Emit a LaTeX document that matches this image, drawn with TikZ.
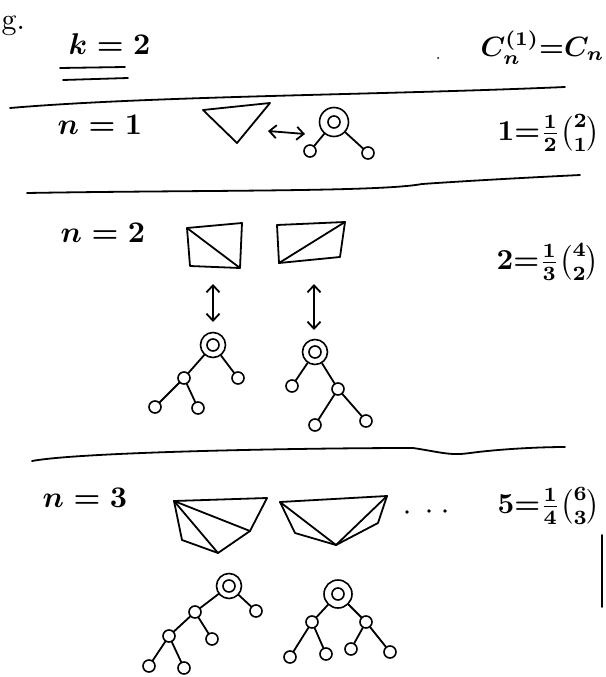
\documentclass[tikz,border=0pt]{standalone}
\usepackage{amsmath}
\usetikzlibrary{arrows.meta}
\begin{document}
\begin{tikzpicture}[x=1pt,y=-1pt,
 pen/.style={line width=1.8pt, line cap=round, line join=round},
 lbl/.style={scale=3, inner sep=0pt, font=\boldmath},
 eqn/.style={scale=2.9, inner sep=0pt, font=\boldmath},
 leaf/.style={circle, draw, line width=1.6pt, minimum size=12pt, inner sep=0pt},
 rootn/.style={circle, draw, line width=1.6pt, minimum size=25pt, inner sep=0pt,
   path picture={\draw[line width=1.6pt] (path picture bounding box.center) circle (6pt);}},
 edge/.style={pen},
 dbl/.style={pen, {Straight Barb[length=7pt,width=13pt]}-{Straight Barb[length=7pt,width=13pt]}}
]
\useasboundingbox[fill=white] (0,0) rectangle (605,677);

% header
\node[lbl, anchor=base west] (g) at (1,30) {g.};
\node[lbl, anchor=west] (k) at (68,44) {$k=2$};
\draw[pen] (60,68) -- (125,67);
\draw[pen] (63,80) -- (128,78);
\node[lbl, scale=0.93, anchor=west] (C) at (480,48) {$C_n^{(1)}{=}C_n$};
\fill (438,58) circle (1pt);

% separators
\draw[pen] (10,108) .. controls (150,96) and (380,95) .. (565,87);
\draw[pen] (27,193) .. controls (200,190) and (380,192) .. (422,184) .. controls (480,180) and (540,177) .. (580,175);
\draw[pen] (32,461) .. controls (80,452) and (300,448) .. (413,448) .. controls (440,452) and (450,456) .. (470,453) .. controls (500,449) and (540,447) .. (565,447);

% ---------- n = 1
\node[lbl, anchor=west] (n1) at (57,125) {$n=1$};
\coordinate (t1a) at (203,110);
\coordinate (t1b) at (270,103);
\coordinate (t1c) at (237,143);
\draw[pen] (t1a) -- (t1b) -- (t1c) -- cycle;
\coordinate (a1s) at (268,131);
\coordinate (a1e) at (305,134);
\draw[dbl] (a1s) -- (a1e);
\node[rootn, minimum size=29pt] (r1) at (334,122) {};
\node[leaf] (r1a) at (310,151) {};
\node[leaf] (r1b) at (368,153) {};
\draw[edge] (r1) -- (r1a);
\draw[edge] (r1) -- (r1b);
\node[eqn, anchor=west] (e1) at (497,133) {$1{=}\tfrac{1}{2}\tbinom{2}{1}$};

% ---------- n = 2
\node[lbl, anchor=west] (n2) at (60,233) {$n=2$};
\coordinate (s1a) at (187,228);
\coordinate (s1b) at (242,223);
\coordinate (s1c) at (240,268);
\coordinate (s1d) at (190,266);
\draw[pen] (s1a) -- (s1b) -- (s1c) -- (s1d) -- cycle;
\draw[pen] (s1a) -- (s1c);
\coordinate (s2a) at (277,225);
\coordinate (s2b) at (345,222);
\coordinate (s2c) at (340,257);
\coordinate (s2d) at (279,263);
\draw[pen] (s2a) -- (s2b) -- (s2c) -- (s2d) -- cycle;
\draw[pen] (s2d) -- (s2b);
\coordinate (a2s) at (213,284);
\coordinate (a2e) at (213,322);
\draw[dbl] (a2s) -- (a2e);
\coordinate (a3s) at (314,284);
\coordinate (a3e) at (314,330);
\draw[dbl] (a3s) -- (a3e);
% tree 2a
\node[rootn] (p0) at (213,345) {};
\node[leaf] (p1) at (184,378) {};
\node[leaf] (p2) at (238,378) {};
\node[leaf] (p3) at (155,407) {};
\node[leaf] (p4) at (198,408) {};
\draw[edge] (p0) -- (p1);
\draw[edge] (p0) -- (p2);
\draw[edge] (p1) -- (p3);
\draw[edge] (p1) -- (p4);
% tree 2b
\node[rootn] (q0) at (315,352) {};
\node[leaf] (q1) at (292,386) {};
\node[leaf] (q2) at (338,389) {};
\node[leaf] (q3) at (315,425) {};
\node[leaf] (q4) at (366,421) {};
\draw[edge] (q0) -- (q1);
\draw[edge] (q0) -- (q2);
\draw[edge] (q2) -- (q3);
\draw[edge] (q2) -- (q4);
\node[eqn, anchor=west] (e2) at (496,262) {$2{=}\tfrac{1}{3}\tbinom{4}{2}$};

% ---------- n = 3
\node[lbl, anchor=west] (n3) at (42,498) {$n=3$};
\coordinate (u1a) at (174,501);
\coordinate (u1b) at (267,498);
\coordinate (u1c) at (250,531);
\coordinate (u1d) at (218,553);
\coordinate (u1e) at (182,540);
\draw[pen] (u1a) -- (u1b) -- (u1c) -- (u1d) -- (u1e) -- cycle;
\draw[pen] (u1a) -- (u1c);
\draw[pen] (u1a) -- (u1d);
\coordinate (u2a) at (280,502);
\coordinate (u2b) at (387,496);
\coordinate (u2c) at (378,523);
\coordinate (u2d) at (336,545);
\coordinate (u2e) at (295,533);
\draw[pen] (u2a) -- (u2b) -- (u2c) -- (u2d) -- (u2e) -- cycle;
\draw[pen] (u2d) -- (u2a);
\draw[pen] (u2d) -- (u2b);
\fill (407,512) circle (1.8pt);
\fill (429,511) circle (1.8pt);
\fill (445,511) circle (1.8pt);
\node[eqn, anchor=west] (e3) at (497,506) {$5{=}\tfrac{1}{4}\tbinom{6}{3}$};
\draw[pen] (602,535) -- (602,607);
% tree 3a
\node[rootn] (v0) at (229,586) {};
\node[leaf] (v1) at (195,612) {};
\node[leaf] (v2) at (256,611) {};
\node[leaf] (v3) at (169,636) {};
\node[leaf] (v4) at (212,639) {};
\node[leaf] (v5) at (149,666) {};
\node[leaf] (v6) at (184,668) {};
\draw[edge] (v0) -- (v1);
\draw[edge] (v0) -- (v2);
\draw[edge] (v1) -- (v3);
\draw[edge] (v1) -- (v4);
\draw[edge] (v3) -- (v5);
\draw[edge] (v3) -- (v6);
% tree 3b
\node[rootn, minimum size=28pt] (w0) at (338,594) {};
\node[leaf] (w1) at (312,622) {};
\node[leaf] (w2) at (366,622) {};
\node[leaf] (w3) at (290,657) {};
\node[leaf] (w4) at (326,654) {};
\node[leaf] (w5) at (351,649) {};
\node[leaf] (w6) at (390,652) {};
\draw[edge] (w0) -- (w1);
\draw[edge] (w0) -- (w2);
\draw[edge] (w1) -- (w3);
\draw[edge] (w1) -- (w4);
\draw[edge] (w2) -- (w5);
\draw[edge] (w2) -- (w6);
\end{tikzpicture}
\end{document}
